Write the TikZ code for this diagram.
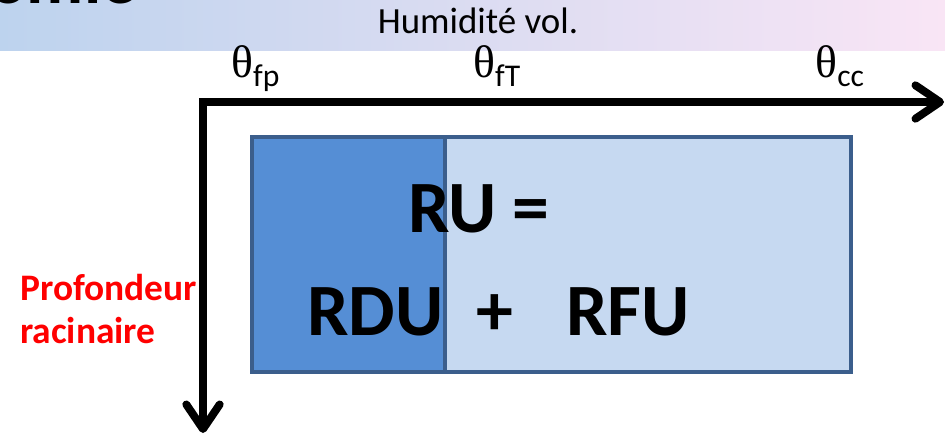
\documentclass[tikz,border=0pt]{standalone}
\usepackage{fontspec}
\setmainfont{Carlito}
\newfontfamily\thetafont{Liberation Serif}
\usetikzlibrary{arrows.meta,positioning}

\definecolor{bandleft}{HTML}{BDD3EE}
\definecolor{bandright}{HTML}{F9E5F5}
\definecolor{rdufill}{HTML}{558ED5}
\definecolor{rfufill}{HTML}{C6D9F1}
\definecolor{boxline}{HTML}{3B5E8C}

\newcommand{\thetalbl}[1]{{\thetafont\fontsize{26}{27}\selectfont θ}\raisebox{-5.2pt}{\fontsize{18}{19}\selectfont #1}}

\begin{document}
\begin{tikzpicture}[x=0.02cm,y=-0.02cm,
  axis/.style={line width=4.5pt,
    {Straight Barb[length=14pt,width=19pt,round]}-{Straight Barb[length=14pt,width=19pt,round]}},
  zone/.style={draw=boxline,line width=2.2pt},
  big/.style={font=\bfseries\fontsize{42}{44}\selectfont,inner sep=0pt},
  thlbl/.style={anchor=base west,inner sep=0pt},
  depth/.style={font=\bfseries\fontsize{21.3}{24.4}\selectfont,text=red,align=left,
              anchor=base west,inner sep=0pt}]
\useasboundingbox (0,0) rectangle (945,436);
% bandeau du titre
\shade[left color=bandleft,right color=bandright] (0,0) rectangle (945,50);
\node[anchor=base east,inner sep=0pt,font=\bfseries\fontsize{40}{40}\selectfont] (title) at (137,4) {nomie};
\node[anchor=base,inner sep=0pt,font=\fontsize{21}{22}\selectfont] (humid) at (478,33) {Humidité vol.};
% axes
\coordinate (xend) at (944,102);
\coordinate (yend) at (203,433);
\draw[axis] (yend) |- (xend);
\node[thlbl] (tfp) at (231,77) {\thetalbl{fp}};
\node[thlbl] (tft) at (473,77) {\thetalbl{fT}};
\node[thlbl] (tcc) at (815,77) {\thetalbl{cc}};
% reserves
\draw[zone,fill=rdufill] (252,137) rectangle (445,372);
\draw[zone,fill=rfufill] (445,137) rectangle (851,372);
\node[big,anchor=base west] (ru) at (408,232) {RU =};
\node[big,anchor=base west] (rdu) at (307,335) {RDU};
\node[big,anchor=base west] (plus) at (476,335) {+};
\node[big,anchor=base west] (rfu) at (566,335) {RFU};
\node[depth] (prof) at (20,343) {Profondeur\\racinaire};
\end{tikzpicture}
\end{document}
